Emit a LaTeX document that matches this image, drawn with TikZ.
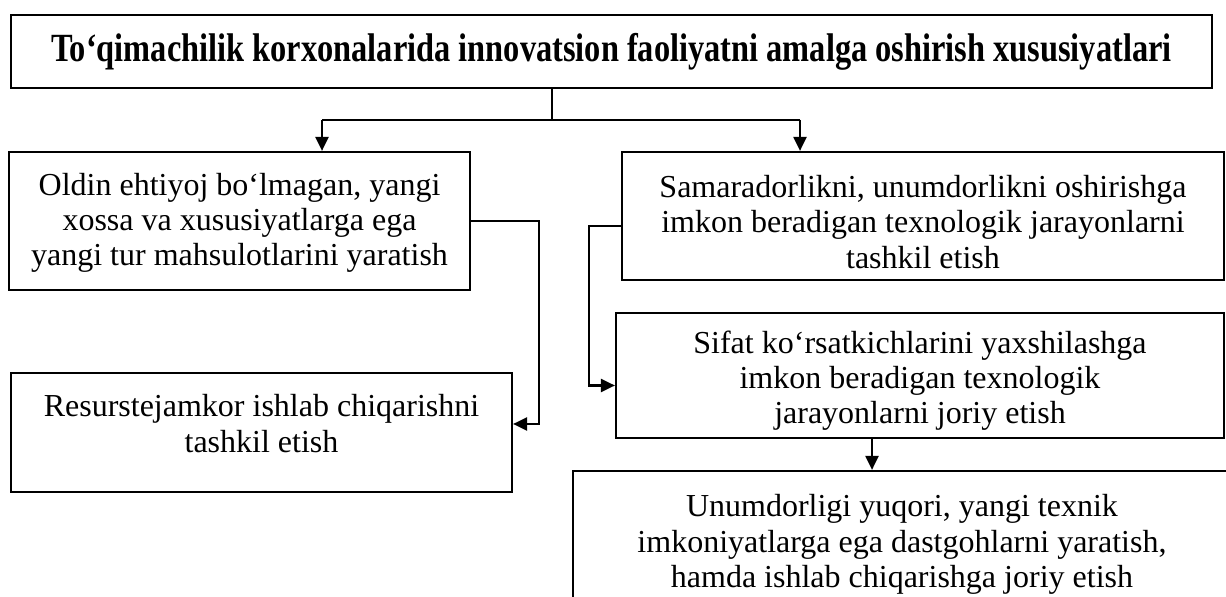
\documentclass[tikz,border=0pt]{standalone}
\usepackage{graphicx}
\usepackage{fontspec}
\setmainfont{Liberation Serif}
\usetikzlibrary{arrows.meta}

\begin{document}
\begin{tikzpicture}[x=0.5pt,y=-0.5pt,
  box/.style={draw,line width=1.1pt,inner sep=0pt},
  txt/.style={align=center,font=\fontsize{16}{17.6}\selectfont},
  link/.style={line width=1.1pt},
  arr/.style={line width=1.1pt,-{Triangle[length=7pt,width=6.5pt]}}]
  \useasboundingbox (0,0) rectangle (1226,597);

  \node[box,minimum width=600.5pt,minimum height=36.5pt] (top) at (611.5,51.5)
    {\bfseries\fontsize{20}{23}\selectfont\scalebox{0.81}[1]{To‘qimachilik korxonalarida innovatsion faoliyatni amalga oshirish xususiyatlari}};

  \node[box,minimum width=230.5pt,minimum height=69pt,
    label={[txt,yshift=-1pt]center:Oldin ehtiyoj bo‘lmagan, yangi\\xossa va xususiyatlarga ega\\yangi tur mahsulotlarini yaratish}]
    (oldin) at (239.5,221) {};
  \node[box,minimum width=301pt,minimum height=64pt,
    label={[txt,yshift=-3pt]center:Samaradorlikni, unumdorlikni oshirishga\\imkon beradigan texnologik jarayonlarni\\tashkil etish}]
    (samar) at (923,216) {};
  \node[box,minimum width=250.5pt,minimum height=59.5pt,
    label={[txt,yshift=4.5pt]center:Resurstejamkor ishlab chiqarishni\\tashkil etish}]
    (resurs) at (261.5,432.5) {};
  \node[box,minimum width=304pt,minimum height=62.5pt,
    label={[txt,yshift=-2.5pt]center:Sifat ko‘rsatkichlarini yaxshilashga\\imkon beradigan texnologik\\jarayonlarni joriy etish}]
    (sifat) at (920,375.5) {};
  \node[box,minimum width=329pt,minimum height=79.5pt,
    label={[txt,yshift=3pt]center:Unumdorligi yuqori, yangi texnik\\imkoniyatlarga ega dastgohlarni yaratish,\\hamda ishlab chiqarishga joriy etish}]
    (unum) at (902,550.5) {};

  % branching under the title
  \coordinate (split) at (552,120);
  \coordinate (ja) at (322,120);
  \coordinate (jb) at (800,120);
  \coordinate (de) at (872,0);
  \draw[link] (split |- top.south) -- (split);
  \draw[link] (ja) -- (jb);
  \draw[arr] (ja) -- (ja |- oldin.north);
  \draw[arr] (jb) -- (jb |- samar.north);

  \draw[arr] (oldin.east) -- ++(68,0) |- ([yshift=4.25pt]resurs.east);
  \draw[arr] ([yshift=-5pt]samar.west) -- ++(-32,0) |- ([yshift=-5pt]sifat.west);
  \draw[arr] (de |- sifat.south) -- (de |- unum.north);
\end{tikzpicture}
\end{document}
